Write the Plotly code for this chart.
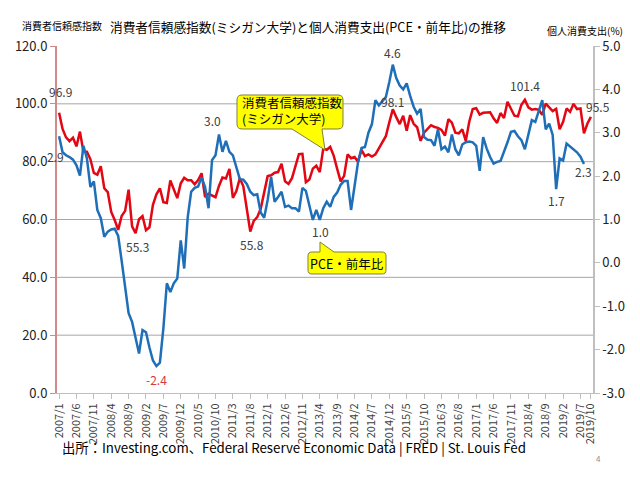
import plotly.graph_objects as go

# ---------------- data ----------------
MONTHS = [f"{y}/{m}" for y in range(2007, 2020) for m in range(1, 13)][:154]  # 2007/1 .. 2019/10

SENTIMENT = [
    96.9, 91.3, 88.4, 87.1, 88.3, 85.3, 90.4, 83.4, 83.4, 80.9, 76.1, 75.5,
    78.4, 70.8, 69.5, 62.6, 59.8, 56.4, 61.2, 63.0, 70.3, 57.6, 55.3, 60.1,
    61.2, 56.3, 57.3, 65.1, 68.7, 70.8, 66.0, 65.7, 73.5, 70.6, 67.4, 72.5,
    74.4, 73.6, 73.6, 72.2, 73.6, 76.0, 67.8, 68.9, 68.2, 67.7, 71.6, 74.5,
    74.2, 77.5, 67.5, 69.8, 74.3, 71.5, 63.7, 55.8, 59.5, 60.8, 63.7, 69.9,
    75.0, 75.3, 76.2, 76.4, 79.3, 73.2, 72.3, 74.3, 78.3, 82.6, 82.7, 72.9,
    73.8, 77.6, 78.6, 76.4, 84.5, 84.1, 85.1, 82.1, 77.5, 73.2, 75.1, 82.5,
    81.2, 81.6, 80.0, 84.1, 81.9, 82.5, 81.8, 82.5, 84.6, 86.9, 88.8, 93.6,
    98.1, 95.4, 93.0, 95.9, 90.7, 96.1, 93.1, 91.9, 87.2, 90.0, 91.3, 92.6,
    92.0, 91.7, 91.0, 89.0, 94.7, 93.5, 90.0, 89.8, 91.2, 87.2, 93.8, 98.2,
    98.5, 96.3, 96.9, 97.0, 97.1, 95.0, 93.4, 96.8, 95.1, 100.7, 98.5, 95.9,
    95.7, 99.7, 101.4, 98.8, 98.0, 98.2, 97.9, 96.2, 100.1, 98.6, 97.5, 98.3,
    91.2, 93.8, 98.4, 97.2, 100.0, 98.2, 98.4, 89.8, 93.2, 95.5,
]

PCE_YOY = [
    2.92, 2.55, 2.48, 2.44, 2.38, 2.25, 2.01, 2.70, 2.41, 1.75, 1.88, 1.22,
    1.03, 0.60, 0.72, 0.77, 0.79, 0.62, 0.05, -0.51, -1.16, -1.36, -1.74, -2.09,
    -1.55, -1.60, -1.95, -2.25, -2.38, -2.30, -1.51, -0.47, -0.67, -0.47, -0.36, 0.52,
    -0.13, 1.05, 1.64, 1.73, 1.76, 1.97, 1.75, 1.26, 2.37, 2.48, 2.96, 2.56,
    2.81, 2.56, 2.48, 2.18, 1.93, 1.92, 1.82, 1.64, 1.56, 1.58, 1.16, 1.04,
    1.45, 1.98, 1.41, 1.52, 1.64, 1.29, 1.32, 1.26, 1.26, 1.18, 1.73, 1.66,
    1.33, 0.99, 1.22, 0.99, 1.26, 1.41, 1.29, 1.52, 1.62, 1.80, 1.89, 1.89,
    1.22, 1.83, 2.32, 2.65, 2.67, 3.00, 3.20, 3.75, 3.63, 3.73, 3.82, 4.17,
    4.57, 4.26, 4.09, 4.00, 4.14, 3.85, 3.60, 3.44, 3.55, 2.90, 2.84, 2.83,
    2.70, 3.08, 2.62, 2.68, 2.55, 2.96, 2.62, 2.48, 2.73, 2.78, 2.80, 2.78,
    2.70, 2.12, 2.90, 2.64, 2.44, 2.29, 2.33, 2.35, 2.55, 2.78, 3.02, 3.04,
    2.92, 2.83, 2.62, 2.98, 3.29, 3.25, 3.48, 3.75, 3.08, 3.21, 2.95, 1.70,
    2.41, 2.36, 2.75, 2.68, 2.62, 2.55, 2.45, 2.28,
]

TICK_IDX = list(range(0, 151, 5)) + [153]
TICK_LABELS = [MONTHS[i] for i in TICK_IDX]

LEFT_TICKS = [0, 20, 40, 60, 80, 100, 120]
RIGHT_TICKS = [-3, -2, -1, 0, 1, 2, 3, 4, 5]
GRID_VALUES = [20, 40, 60, 80, 100]

# labelled points: (index, xshift, yshift)
RED_LABELS = [(0, 1, 21), (22, 2, -13), (55, 2, -13), (96, 0, 8), (134, 0, 14), (153, 7, 10)]
BLUE_LABELS = [(0, -4, -20), (28, 0, -13), (46, -6, 14), (75, 1, -12), (96, 0, 12), (143, 0, -11), (151, 0, -8)]

FONT = "Noto Sans CJK JP"
RED = "#e30613"
BLUE = "#1f6fb8"
LABEL_GRAY = "#404040"

x = list(range(len(MONTHS)))

fig = go.Figure()
fig.add_trace(go.Scatter(x=x, y=SENTIMENT, mode="lines", yaxis="y",
                         line=dict(color=RED, width=2.5), showlegend=False))
fig.add_trace(go.Scatter(x=x[:len(PCE_YOY)], y=PCE_YOY, mode="lines", yaxis="y2",
                         line=dict(color=BLUE, width=2.5), showlegend=False))

# page offset of the figure (body margin) and plot area in screen pixels
OFF = 8
FIG_W, FIG_H = 624, 464
PL, PT, PR, PB = 57, 46, 593, 393          # plot area on screen
L, T = PL - OFF, PT - OFF
R = FIG_W - (PR - OFF)
B = FIG_H - (PB - OFF)


def px(xs, ys):
    """screen pixel -> paper coords"""
    return (xs - PL) / (PR - PL), (PB - ys) / (PB - PT)


def path_from(points):
    parts = []
    for cmd, pts in points:
        coords = " ".join(f"{px(a, b)[0]:.5f},{px(a, b)[1]:.5f}" for a, b in pts)
        parts.append(f"{cmd}{coords}")
    return " ".join(parts) + " Z"


# callout 1 (rounded box with tail at bottom)
c1 = path_from([
    ("M", [(242, 95)]), ("L", [(338, 95)]), ("Q", [(343, 95), (343, 100)]),
    ("L", [(343, 124)]), ("Q", [(343, 129), (338, 129)]),
    ("L", [(322, 129)]), ("L", [(325, 150)]), ("L", [(292, 129)]),
    ("L", [(242, 129)]), ("Q", [(237, 129), (237, 124)]),
    ("L", [(237, 100)]), ("Q", [(237, 95), (242, 95)]),
])
# callout 2 (rounded box with tail at top)
c2 = path_from([
    ("M", [(312, 252)]), ("L", [(320, 252)]), ("L", [(320, 242)]), ("L", [(334, 252)]),
    ("L", [(382, 252)]), ("Q", [(386, 252), (386, 256)]),
    ("L", [(386, 270)]), ("Q", [(386, 274), (382, 274)]),
    ("L", [(312, 274)]), ("Q", [(308, 274), (308, 270)]),
    ("L", [(308, 256)]), ("Q", [(308, 252), (312, 252)]),
])

shapes = []
for g in GRID_VALUES:
    shapes.append(dict(type="line", xref="paper", x0=0, x1=1, yref="y", y0=g, y1=g,
                       line=dict(color="#a6a6a6", width=1), layer="below"))
for pth in (c1, c2):
    shapes.append(dict(type="path", xref="paper", yref="paper", path=pth,
                       fillcolor="#ffff00", line=dict(color="#7f7f40", width=1), layer="above"))

annotations = []
for i, dx, dy in RED_LABELS:
    annotations.append(dict(x=i, y=SENTIMENT[i], xref="x", yref="y", text=f"{SENTIMENT[i]:.1f}",
                            showarrow=False, xshift=dx, yshift=dy,
                            font=dict(family=FONT, size=12, color=LABEL_GRAY)))
for i, dx, dy in BLUE_LABELS:
    col = "#d83a3a" if PCE_YOY[i] < 0 else LABEL_GRAY
    annotations.append(dict(x=i, y=PCE_YOY[i], xref="x", yref="y2", text=f"{PCE_YOY[i]:.1f}",
                            showarrow=False, xshift=dx, yshift=dy,
                            font=dict(family=FONT, size=12, color=col)))


def text_at(xs, ys, text, size, color="#000000", xanchor="center", align="center"):
    xp, yp = px(xs, ys)
    return dict(x=xp, y=yp, xref="paper", yref="paper", xanchor=xanchor, yanchor="middle",
                align=align, showarrow=False, text=text,
                font=dict(family=FONT, size=size, color=color))


annotations += [
    text_at(240, 111, "消費者信頼感指数<br>(ミシガン大学)", 12.5, xanchor="left", align="left"),
    text_at(347, 263, "PCE・前年比", 12.5),
    text_at(308, 27, "消費者信頼感指数(ミシガン大学)と個人消費支出(PCE・前年比)の推移", 12.7),
    text_at(20, 25, "消費者信頼感指数", 10, xanchor="left"),
    text_at(625, 30, "個人消費支出(%)", 10, xanchor="right"),
    text_at(60, 447, "出所：Investing.com、Federal Reserve Economic Data | FRED | St. Louis Fed", 13.3,
            xanchor="left", align="left"),
    text_at(598, 458, "4", 8, color="#8c8c8c"),
]

fig.update_layout(
    width=FIG_W, height=FIG_H,
    margin=dict(l=L, r=R, t=T, b=B, autoexpand=False),
    paper_bgcolor="white", plot_bgcolor="white",
    showlegend=False,
    xaxis=dict(range=[-0.6, 153.6], tickmode="array", tickvals=TICK_IDX, ticktext=TICK_LABELS,
               tickangle=-90, tickfont=dict(family=FONT, size=11, color=LABEL_GRAY),
               showgrid=False, zeroline=False, showline=True, linecolor="#bfbfbf", linewidth=1,
               ticks="outside", ticklen=5, tickcolor="#bfbfbf"),
    yaxis=dict(range=[0, 120], tickmode="array", tickvals=LEFT_TICKS,
               ticktext=[f"{v:.1f}" for v in LEFT_TICKS],
               tickfont=dict(family=FONT, size=13, color="#222222"),
               showgrid=False, zeroline=False, showline=True, linecolor="#d08a8a", linewidth=2,
               ticks="outside", ticklen=5, tickcolor="#d08a8a"),
    yaxis2=dict(range=[-3, 5], overlaying="y", side="right", tickmode="array", tickvals=RIGHT_TICKS,
                ticktext=[f"{v:.1f}" for v in RIGHT_TICKS],
                tickfont=dict(family=FONT, size=13, color="#222222"),
                showgrid=False, zeroline=False, showline=True, linecolor="#bfbfbf", linewidth=1.5,
                ticks="outside", ticklen=5, tickcolor="#bfbfbf"),
    shapes=shapes,
    annotations=annotations,
)

fig.write_html("out.html")
